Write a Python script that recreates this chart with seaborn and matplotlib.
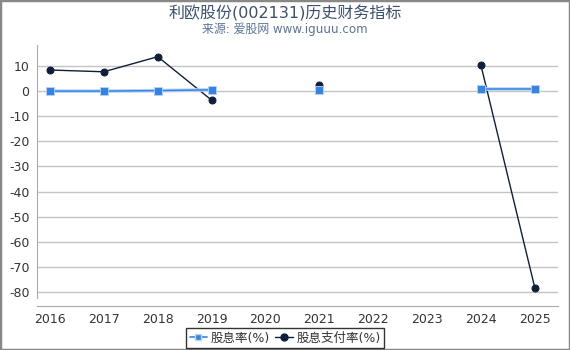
import numpy as np
import pandas as pd
import matplotlib
matplotlib.use("Agg")
import matplotlib.pyplot as plt
import matplotlib.patheffects as pe
from matplotlib.lines import Line2D
import seaborn as sns

years = [2016, 2017, 2018, 2019, 2020, 2021, 2022, 2023, 2024, 2025]
dividend_yield = [0.0, 0.0, 0.2, 0.5, np.nan, 0.5, np.nan, np.nan, 0.8, 0.8]
payout_ratio = [8.4, 7.7, 13.7, -3.6, np.nan, 2.3, np.nan, np.nan, 10.2, -78.4]
series_names = ["股息率(%)", "股息支付率(%)"]
title = "利欧股份(002131)历史财务指标"
subtitle = "来源: 爱股网 www.iguuu.com"

sns.set_style("white")
plt.rcParams['font.family'] = ['DejaVu Sans', 'Noto Sans CJK SC']
plt.rcParams['axes.unicode_minus'] = False


def segmented(vals):
    rows = []
    seg = 0
    prev_nan = True
    for y, v in zip(years, vals):
        if np.isnan(v):
            prev_nan = True
            continue
        if prev_nan:
            seg += 1
        prev_nan = False
        rows.append({"year": y, "value": v, "seg": seg})
    return pd.DataFrame(rows)


fig = plt.figure(figsize=(5.7, 3.5), dpi=100)
fig.patches.append(plt.Rectangle((0, 0), 1, 1, transform=fig.transFigure,
                                 fill=False, edgecolor="#888888", linewidth=2.5))
ax = fig.add_axes([0.065, 0.1486, 0.914, 0.7228])

blue = "#3584e4"
halo = "#b9d4f5"
navy = "#0f1f3a"

d1 = segmented(dividend_yield)
d2 = segmented(payout_ratio)

sns.lineplot(data=d2, x="year", y="value", units="seg", estimator=None, ax=ax,
             color=navy, marker="o", markersize=5, markeredgecolor=navy,
             linewidth=1.0)
sns.lineplot(data=d1, x="year", y="value", units="seg", estimator=None, ax=ax,
             color=blue, linewidth=1.1,
             path_effects=[pe.Stroke(linewidth=2.6, foreground=halo), pe.Normal()])
sns.scatterplot(data=d1, x="year", y="value", ax=ax, color=blue, marker="s",
                s=28, edgecolor=halo, linewidth=0.6, zorder=5)

ax.set_xlim(2015.76, 2025.43)
ax.set_ylim(-82.4, 18.36)
ax.set_xticks(years)
ax.set_xticklabels([str(y) for y in years])
ax.set_yticks(np.arange(-80, 11, 10))
ax.yaxis.grid(True, color="#c4c4c4", linewidth=1)
ax.set_axisbelow(True)
ax.set_xlabel("")
ax.set_ylabel("")

for s in ["top", "right"]:
    ax.spines[s].set_visible(False)
ax.spines["left"].set_color("#aaaaaa")
ax.spines["bottom"].set_color("#aaaaaa")
ax.spines["bottom"].set_position(("outward", 6))
ax.tick_params(axis="both", colors="#aaaaaa", labelcolor="#333333", labelsize=9,
               length=3.5, width=1, direction="out")
ax.tick_params(axis="x", pad=1)
ax.tick_params(axis="y", pad=2)

fig.text(0.5, 0.963, title, ha="center", va="center", fontsize=11.5, color="#3b4f6e")
fig.text(0.5, 0.917, subtitle, ha="center", va="center", fontsize=8.6, color="#5a7499")

h1 = Line2D([], [], color=blue, marker="s", markersize=5, markeredgecolor=halo,
            linewidth=1.2)
h2 = Line2D([], [], color=navy, marker="o", markersize=5, linewidth=1.0)
leg = fig.legend([h1, h2], series_names, loc="center", bbox_to_anchor=(0.5, 0.034),
                 ncol=2, frameon=True, fancybox=False, fontsize=9,
                 handlelength=1.4, handletextpad=0.3, columnspacing=0.4,
                 borderpad=0.3, labelcolor="#333333")
leg.get_frame().set_edgecolor("#000000")
leg.get_frame().set_linewidth(1)

fig.savefig("out.png", dpi=100)
